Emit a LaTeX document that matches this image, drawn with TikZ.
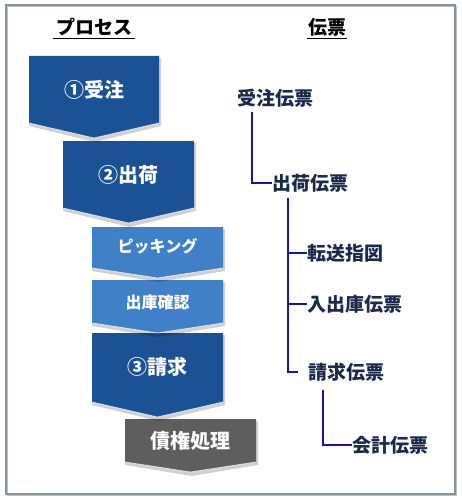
\documentclass[tikz,border=0pt]{standalone}
\usepackage{fontspec}
\newfontfamily\jp{Noto Sans CJK JP}
\definecolor{dblue}{HTML}{1A5295}
\definecolor{lblue}{HTML}{3F80C6}
\definecolor{dgray}{HTML}{5E5E5E}
\definecolor{navy}{HTML}{1B2A4A}
\definecolor{lineblue}{HTML}{1414B4}
\definecolor{framec}{HTML}{8592A0}
\tikzset{
  title/.style={font=\jp\bfseries\fontsize{19}{19}\selectfont, text=black, inner sep=0pt},
  doc/.style={font=\jp\bfseries\fontsize{19}{19}\selectfont, text=navy, inner sep=0pt, anchor=west},
  chtext/.style={font=\jp\bfseries\fontsize{20}{20}\selectfont, text=white, inner sep=0pt},
  chsmall/.style={font=\jp\bfseries\fontsize{16}{16}\selectfont, text=white, inner sep=0pt},
  conn/.style={draw=lineblue, line width=2pt},
}
\newcommand\mychev[6]{% left right top sidebottom tip color
  \pgfmathsetmacro\cx{(#1+#2)/2}
  \fill[black,opacity=0.18] (#1+1,#3+2) -- (#2+2,#3+2) -- (#2+2,#4+3) -- (\cx+1,#5+4) -- (#1,#4+3) -- cycle;
  \fill[#6] (#1,#3) -- (#2,#3) -- (#2,#4) -- (\cx,#5) -- (#1,#4) -- cycle;
  \draw[white,opacity=0.7,line width=0.8pt] (#1,#4) -- (\cx,#5) -- (#2,#4);
}
\begin{document}
\begin{tikzpicture}[x=1pt,y=-1pt]
\useasboundingbox (0,0) rectangle (461,500);
\fill[white] (0,0) rectangle (461,500);
\draw[black!25,line width=1.5pt] (7.5,6.5) rectangle (456.5,495.5);
\draw[framec,line width=1.2pt] (6,5) rectangle (455,494);
% titles
\node[title] (tp) at (94,27) {プロセス};
\draw[black,line width=1pt] (53,38.5) -- (135,38.5);
\node[title] (td) at (327,27) {伝票};
\draw[black,line width=1pt] (307,38.5) -- (347,38.5);
% chevrons (drawn bottom-up so upper tips overlap lower boxes)
\mychev{125}{256}{419}{462}{472}{dgray}
\node[chtext] (c6) at (190.5,441) {債権処理};
\mychev{92}{223}{333}{402}{417}{dblue}
\node[chtext] (c5) at (157.5,367) {③請求};
\mychev{92}{223}{280}{323}{333}{lblue}
\node[chsmall] (c4) at (157.5,302) {出庫確認};
\mychev{92}{223}{227}{268}{278}{lblue}
\node[chsmall] (c3) at (157.5,246) {ピッキング};
\mychev{63}{194}{141}{208}{223}{dblue}
\node[chtext] (c2) at (128.5,175) {②出荷};
\mychev{29}{159}{56}{123}{138}{dblue}
\node[chtext] (c1) at (94,90) {①受注};
% documents
\node[doc] (ju) at (237,98) {受注伝票};
\node[doc] (sh) at (272,183) {出荷伝票};
\node[doc] (ts) at (307,253) {転送指図};
\node[doc] (ny) at (307,304) {入出庫伝票};
\node[doc] (se) at (308,372) {請求伝票};
\node[doc] (ka) at (352,445) {会計伝票};
\coordinate (t1) at (252,112);
\coordinate (t2) at (288,198);
\coordinate (t3) at (323,390);
\coordinate (se0) at (298,372);
\draw[conn] (t1) |- (sh.west);
\draw[conn] (t2) |- (ts.west);
\draw[conn] (t2) |- (ny.west);
\draw[conn] (t2) |- (se0);
\draw[conn] (t3) |- (ka.west);
\end{tikzpicture}
\end{document}
